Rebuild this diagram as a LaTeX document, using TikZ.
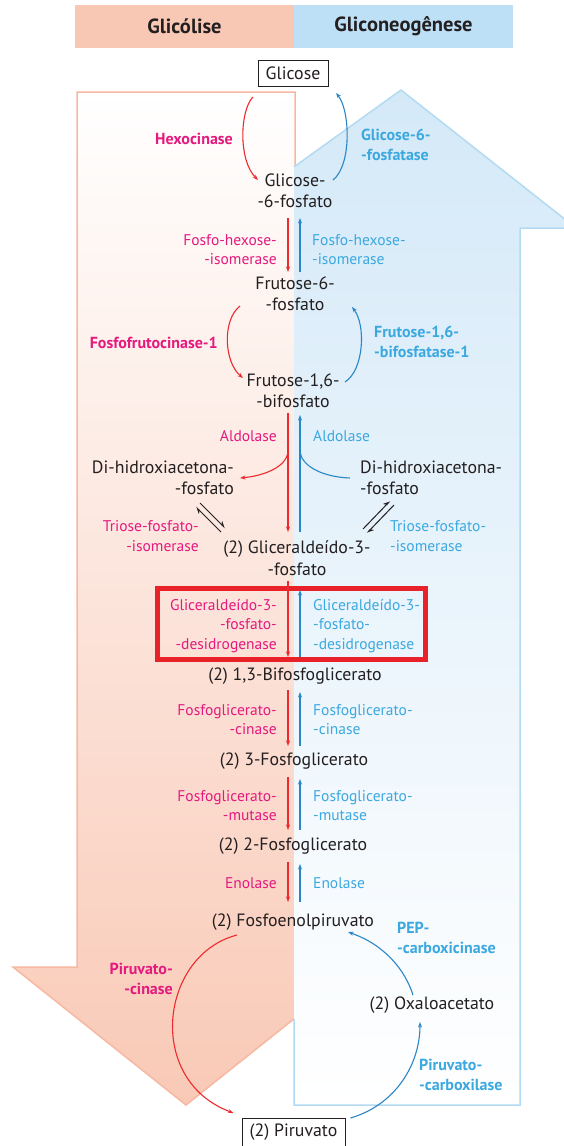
\documentclass[tikz,border=0pt]{standalone}
\usepackage{fontspec}
\setmainfont{PT Sans}
\usetikzlibrary{arrows.meta,calc}
\definecolor{txt}{HTML}{231F20}
\definecolor{mag}{HTML}{E5197E}
\definecolor{lblue}{HTML}{3BA8E0}
\definecolor{redarr}{HTML}{EE2A2E}
\definecolor{bluearr}{HTML}{2A86C6}
\definecolor{hpink}{HTML}{F9C8B5}
\definecolor{hblue}{HTML}{BEE0F6}
\definecolor{pinkline}{HTML}{F7B8A2}
\definecolor{blueline}{HTML}{B3DAF2}
\definecolor{pinkbot}{HTML}{F9C9B6}
\definecolor{pinkmid}{HTML}{FDEAE2}
\definecolor{bluetop}{HTML}{D4E9F8}
\definecolor{bluemid}{HTML}{EAF5FD}
\definecolor{hilite}{HTML}{E92129}
\begin{document}
\begin{tikzpicture}[x=1pt,y=-1pt,
  mainnode/.style={font=\fontsize{17.8}{21.5}\selectfont, text=txt, inner sep=0pt, align=center},
  boxnode/.style={mainnode, draw=txt, line width=0.9pt, fill=white, minimum height=26pt},
  lab/.style={font=\fontsize{15.5}{19.2}\selectfont, inner sep=0pt},
  labL/.style={lab, text=mag, align=right, anchor=east},
  labR/.style={lab, text=lblue, align=left, anchor=west},
  blabL/.style={labL, font=\fontsize{16}{19.5}\selectfont\bfseries},
  blabR/.style={labR, font=\fontsize{16}{19.5}\selectfont\bfseries},
  hdr/.style={font=\fontsize{20.5}{22}\selectfont\bfseries, text=txt, inner sep=0pt, minimum height=43pt},
  ra/.style={draw=redarr, line width=1.1pt, -{Stealth[length=5.5pt,width=4pt]}},
  ba/.style={draw=bluearr, line width=1.1pt, -{Stealth[length=5.5pt,width=4pt]}},
  bline/.style={draw=bluearr, line width=1.1pt},
  eqarr/.style={draw=txt, line width=1pt, -{Stealth[harpoon,length=6pt,width=6pt]}}
]
\useasboundingbox (0,0) rectangle (564,1146);
\fill[white] (0,0) rectangle (564,1146);

% glycolysis (down) arrow
\path[draw=pinkline, line width=1.5pt, top color=white, middle color=pinkmid, bottom color=pinkbot]
  (77,92) -- (295,92) -- (295,967) -- (359,967) -- (186,1105) -- (13,967) -- (77,967) -- cycle;

% gluconeogenesis (up) arrow
\begin{scope}
  \clip (294,0) rectangle (564,1146);
  \path[top color=bluetop, middle color=bluemid, bottom color=white]
    (294,1105) -- (294,228) -- (209,228) -- (401,90) -- (576,228) -- (520,228) -- (520,1105) -- cycle;
\end{scope}
\draw[blueline, line width=1.5pt] (294,166.9) -- (401,90) -- (576,228) -- (520,228) -- (520,1105) -- (294,1105) -- (294,1019);

% header
\node[hdr, fill=hpink, minimum width=219pt] (hgl) at (184.5,26.5) {Glicólise};
\node[hdr, fill=hblue, minimum width=219pt] (hgn) at (403.5,26.5) {Gliconeogênese};

% metabolites
\node[boxnode, minimum width=70pt] (glc) at (293,73) {Glicose};
\node[mainnode] (g6p) at (295,191) {Glicose-\\-6-fosfato};
\node[mainnode] (f6p) at (295,294) {Frutose-6-\\-fosfato};
\node[mainnode] (f16) at (293,391) {Frutose-1,6-\\-bifosfato};
\node[mainnode, align=right, anchor=east] (dhapL) at (234,478) {Di-hidroxiacetona-\\-fosfato};
\node[mainnode, align=left, anchor=west] (dhapR) at (360,478) {Di-hidroxiacetona-\\-fosfato};
\node[mainnode] (gap) at (297,558) {(2) Gliceraldeído-3-\\-fosfato};
\node[mainnode] (bpg) at (295,676) {(2) 1,3-Bifosfoglicerato};
\node[mainnode] (pg3) at (294,761) {(2) 3-Fosfoglicerato};
\node[mainnode] (pg2) at (293,846) {(2) 2-Fosfoglicerato};
\node[mainnode] (pep) at (293,922) {(2) Fosfoenolpiruvato};
\node[mainnode] (oaa) at (432,1005) {(2) Oxaloacetato};
\node[boxnode, minimum width=103pt, minimum height=28pt] (pyr) at (293.5,1132) {(2) Piruvato};

% enzyme labels
\node[blabL] (hex) at (233,139) {Hexocinase};
\node[blabR] (g6pase) at (361,145) {Glicose-6-\\-fosfatase};
\node[labL] (phiL) at (277,250) {Fosfo-hexose-\\-isomerase};
\node[labR] (phiR) at (312,250) {Fosfo-hexose-\\-isomerase};
\node[blabL] (pfk) at (218,343) {Fosfofrutocinase-1};
\node[blabR] (fbp) at (374,342) {Frutose-1,6-\\-bifosfatase-1};
\node[labL] (aldL) at (277,436) {Aldolase};
\node[labR] (aldR) at (313,436) {Aldolase};
\node[labL] (tpiL) at (199,536) {Triose-fosfato-\\-isomerase};
\node[labR] (tpiR) at (390,536) {Triose-fosfato-\\-isomerase};
\node[labL] (gapdhL) at (277,626) {Gliceraldeído-3-\\-fosfato-\\-desidrogenase};
\node[labR] (gapdhR) at (313,626) {Gliceraldeído-3-\\-fosfato-\\-desidrogenase};
\node[labL] (pgkL) at (277,719.5) {Fosfoglicerato-\\-cinase};
\node[labR] (pgkR) at (313,719.5) {Fosfoglicerato-\\-cinase};
\node[labL] (pgmL) at (277,805.5) {Fosfoglicerato-\\-mutase};
\node[labR] (pgmR) at (313,805.5) {Fosfoglicerato-\\-mutase};
\node[labL] (enoL) at (277,883) {Enolase};
\node[labR] (enoR) at (313,883) {Enolase};
\node[blabL] (pk) at (173,979) {Piruvato-\\-cinase};
\node[blabR] (pepck) at (397,938) {PEP-\\-carboxicinase};
\node[blabR] (pc) at (419,1075) {Piruvato-\\-carboxilase};

% highlight box
\draw[hilite, line width=5pt] (157.5,588) rectangle (425.5,659.5);

% straight arrows
\draw[ra] ($(g6p)+(-7,27)$) -- ($(f6p)+(-7,-22)$);
\draw[ba] ($(f6p)+(5,-22)$) -- ($(g6p)+(5,27)$);
\draw[ra] ($(f16)+(-5,22)$) -- ($(gap)+(-9,-26)$);
\draw[ba] ($(gap)+(3,-26)$) -- ($(f16)+(7,24)$);
\draw[ra] ($(gap)+(-9,23)$) -- ($(bpg)+(-7,-19)$);
\draw[ba] ($(bpg)+(5,-19)$) -- ($(gap)+(3,32)$);
\draw[ra] ($(bpg)+(-7,14)$) -- ($(pg3)+(-6,-15)$);
\draw[ba] ($(pg3)+(6,-15)$) -- ($(bpg)+(5,16)$);
\draw[ra] ($(pg3)+(-6,16)$) -- ($(pg2)+(-5,-16)$);
\draw[ba] ($(pg2)+(7,-16)$) -- ($(pg3)+(6,18)$);
\draw[ra] ($(pg2)+(-5,16)$) -- ($(pep)+(-5,-20)$);
\draw[ba] ($(pep)+(7,-20)$) -- ($(pg2)+(7,18)$);

% aldolase branches
\draw[ra] ($(f16)+(-5,61)$) .. controls (286,468) and (262,476) .. ($(dhapL.east)+(6,0)$);
\draw[bline] ($(dhapR.west)+(-10,0)$) .. controls (322,477) and (302,466) .. ($(f16)+(7,61)$);

% curved arrows
\draw[ra] ($(glc)+(-40,24)$) .. controls (240,110) and (238,160) .. ($(g6p)+(-37,-11)$);
\draw[ba] ($(g6p)+(38,-11)$) .. controls (352,165) and (350,110) .. ($(glc)+(43,20)$);
\draw[ra] ($(f6p)+(-55,12)$) .. controls (222,320) and (224,362) .. ($(f16)+(-50,-13)$);
\draw[ba] ($(f16)+(52,-9)$) .. controls (364,370) and (366,325) .. ($(f6p)+(57,13)$);
\draw[ra] ($(pep)+(-56,13)$) .. controls (160,955) and (145,1080) .. ($(pyr)+(-60,-19)$);
\draw[ba] ($(oaa)+(-19,-10)$) .. controls (405,970) and (385,945) .. ($(pep)+(55,10)$);
\draw[ba] ($(pyr)+(57,-14)$) .. controls (395,1105) and (420,1065) .. ($(oaa)+(-12,17)$);

% triose phosphate isomerase equilibria
\draw[eqarr] ($(dhapL.east)+(-34,25)$) -- ($(gap)+(-72,-30)$);
\draw[eqarr] ($(gap)+(-76,-26)$) -- ($(dhapL.east)+(-38,29)$);
\draw[eqarr] ($(dhapR.west)+(34,27)$) -- ($(gap)+(70,-25)$);
\draw[eqarr] ($(gap)+(66,-29)$) -- ($(dhapR.west)+(30,23)$);
\end{tikzpicture}
\end{document}
